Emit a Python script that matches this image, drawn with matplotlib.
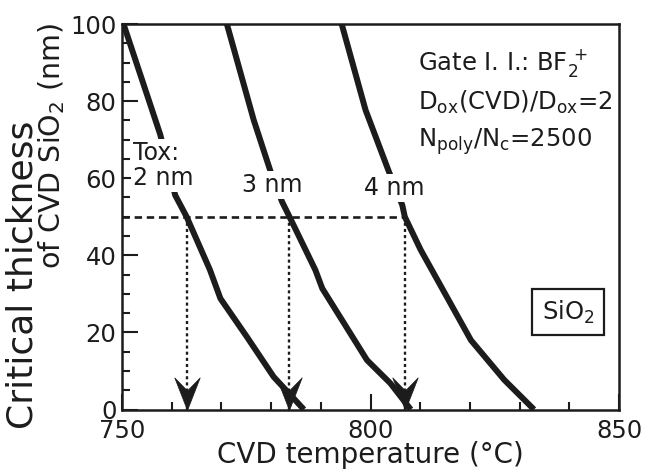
import matplotlib
matplotlib.use('Agg')
import matplotlib.pyplot as plt
from matplotlib.path import Path
from matplotlib.ticker import MultipleLocator

# ---- data ----
temp_2nm = [750.3, 757.7, 760.7, 763.0, 767.7, 769.8, 775.1, 780.5, 786.6]
thick_2nm = [100, 71.3, 55.6, 50.0, 36.2, 28.8, 18.9, 8.5, 0]
temp_3nm = [771.1, 776.5, 779.8, 782.2, 783.7, 788.9, 790.3, 799.3, 804.0, 808.1]
thick_3nm = [100, 75.1, 62.1, 53.9, 50.0, 36.2, 31.4, 12.8, 6.8, 0]
temp_4nm = [794.2, 799.0, 803.7, 806.4, 806.9, 810.1, 820.2, 826.9, 832.9]
thick_4nm = [100, 77.7, 61.7, 53.0, 50.0, 41.4, 18.0, 7.7, 0]
crit_thick = 50
arrow_temps = [763.0, 783.7, 806.9]
x_ticks = [750, 800, 850]
y_ticks = [0, 20, 40, 60, 80, 100]

ink = '#1c1c1c'
fig = plt.figure(figsize=(6.49, 4.71), dpi=100)
ax = fig.add_axes([122 / 649, 1 - 409.5 / 471, (619 - 122) / 649, (409.5 - 24) / 471])

for t, c in [(temp_2nm, thick_2nm), (temp_3nm, thick_3nm), (temp_4nm, thick_4nm)]:
    ax.plot(t, c, color=ink, lw=4.3, solid_capstyle='butt', solid_joinstyle='round', zorder=2)

# guide lines
ax.hlines(crit_thick, 750, max(arrow_temps), colors=ink, lw=1.9,
          linestyles=[(0, (2.8, 1.8))], zorder=1.8)
ax.vlines(arrow_temps, 0, crit_thick, colors=ink, lw=1.7,
          linestyles=[(0, (1.3, 1.3))], zorder=1.8)
head = Path([(0, 0), (-0.39, 1), (0, 0.6), (0.39, 1), (0, 0)],
            [Path.MOVETO, Path.LINETO, Path.LINETO, Path.LINETO, Path.CLOSEPOLY])
ax.plot(arrow_temps, [0] * len(arrow_temps), ls='none', marker=head, ms=47,
        color=ink, mec=ink, mew=0.5, clip_on=False, zorder=2.1)

ax.set_xlim(750, 850)
ax.set_ylim(0, 100)
ax.set_xticks(x_ticks)
ax.set_yticks(y_ticks)
ax.xaxis.set_minor_locator(MultipleLocator(10))
ax.yaxis.set_minor_locator(MultipleLocator(5))
ax.tick_params(which='both', direction='in', top=False, right=False, color=ink, width=1.5)
ax.tick_params(which='major', length=11.5, labelsize=17.5, labelcolor=ink)
ax.tick_params(which='minor', length=6)
ax.tick_params(axis='x', which='major', pad=7)
ax.tick_params(axis='y', which='major', pad=4)
for s in ax.spines.values():
    s.set_linewidth(1.8)
    s.set_color(ink)

tb = dict(facecolor='white', edgecolor='none', pad=1.5)
fs = 17
ax.text(752.2, 64.7, 'Tox:', fontsize=fs, color=ink, ha='left', va='baseline', bbox=tb, zorder=2.2)
ax.text(752.2, 58.2, '2 nm', fontsize=fs, color=ink, ha='left', va='baseline', bbox=tb, zorder=2.2)
ax.text(780.3, 56.5, '3 nm', fontsize=fs, color=ink, ha='center', va='baseline', bbox=tb, zorder=2.2)
ax.text(804.7, 55.6, '4 nm', fontsize=fs, color=ink, ha='center', va='baseline', bbox=tb, zorder=2.2)

ax.text(809.5, 88.1, r'Gate I. I.: BF$_2^{\,+}$', fontsize=17.5, color=ink, ha='left', va='baseline')
ax.text(809.5, 77.7, r'D$_{\mathrm{ox}}$(CVD)/D$_{\mathrm{ox}}$=2', fontsize=17.5, color=ink, ha='left', va='baseline')
ax.text(809.5, 68.2, r'N$_{\mathrm{poly}}$/N$_{\mathrm{c}}$=2500', fontsize=17.5, color=ink, ha='left', va='baseline')

ax.text(839.8, 25.3, r'SiO$_2$', fontsize=17.5, color=ink, ha='center', va='center',
        bbox=dict(boxstyle='square,pad=0.4', facecolor='white', edgecolor=ink, lw=1.6))

ax.set_xlabel('CVD temperature (°C)', fontsize=20, color=ink)
ax.xaxis.set_label_coords(0.5, -0.083)
fig.text(33 / 649, 1 - 275 / 471, 'Critical thickness', fontsize=26, color=ink,
         rotation=90, rotation_mode='anchor', ha='center', va='baseline')
fig.text(60 / 649, 1 - 146 / 471, r'of CVD SiO$_2$ (nm)', fontsize=20.5, color=ink,
         rotation=90, rotation_mode='anchor', ha='center', va='baseline')

fig.savefig('out.png', dpi=100, facecolor='white')
